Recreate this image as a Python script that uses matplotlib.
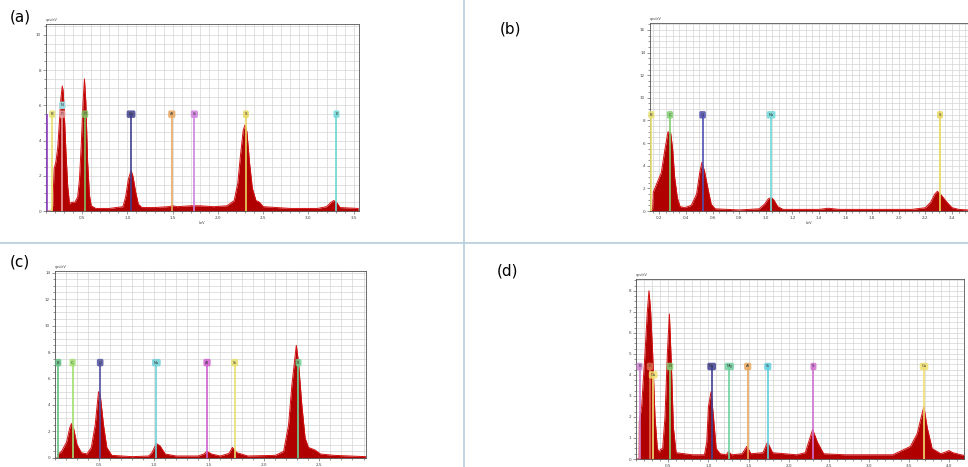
import matplotlib
matplotlib.use("Agg")
import matplotlib.pyplot as plt
from matplotlib.lines import Line2D
from matplotlib.ticker import MultipleLocator

# spectra: energy (keV) and counts (cps/eV)
a_energy = [0.10, 0.16, 0.175, 0.19, 0.21, 0.23, 0.25, 0.265, 0.28, 0.29, 0.30, 0.32, 0.34, 0.36,
            0.38, 0.42, 0.45, 0.47, 0.49, 0.51, 0.525, 0.54, 0.56, 0.58, 0.60, 0.65, 0.80, 0.95,
            0.98, 1.01, 1.04, 1.06, 1.09, 1.12, 1.16, 1.30, 1.45, 1.50, 1.55, 1.70, 1.80, 1.95,
            2.10, 2.18, 2.22, 2.25, 2.28, 2.30, 2.32, 2.35, 2.38, 2.42, 2.46, 2.50, 2.80, 3.10,
            3.20, 3.25, 3.28, 3.31, 3.35, 3.55]
a_counts = [0.0, 0.0, 0.3, 2.4, 2.8, 3.6, 5.2, 6.4, 7.1, 6.8, 5.8, 3.4, 1.4, 0.4,
            0.5, 0.5, 0.8, 1.8, 3.8, 6.2, 7.5, 6.2, 2.8, 0.9, 0.3, 0.15, 0.15, 0.25,
            0.8, 1.8, 2.3, 2.0, 1.1, 0.4, 0.2, 0.2, 0.25, 0.3, 0.25, 0.3, 0.3, 0.25,
            0.3, 0.6, 1.6, 3.2, 4.6, 4.9, 4.5, 2.7, 1.3, 0.6, 0.5, 0.25, 0.15, 0.15,
            0.25, 0.5, 0.6, 0.5, 0.2, 0.15]

b_energy = [0.13, 0.15, 0.155, 0.18, 0.215, 0.24, 0.265, 0.285, 0.30, 0.315, 0.335, 0.355, 0.39,
            0.44, 0.48, 0.505, 0.52, 0.54, 0.565, 0.59, 0.62, 0.80, 0.95, 0.99, 1.02, 1.04,
            1.06, 1.09, 1.13, 1.40, 1.47, 1.55, 1.80, 2.10, 2.20, 2.24, 2.27, 2.29, 2.32,
            2.36, 2.40, 2.45, 2.52]
b_counts = [0.0, 0.2, 1.7, 2.4, 3.4, 5.3, 7.0, 6.9, 5.5, 3.0, 1.2, 0.4, 0.3,
            0.5, 1.5, 3.5, 4.3, 3.5, 2.0, 0.6, 0.2, 0.1, 0.2, 0.6, 1.1, 1.2,
            1.0, 0.4, 0.15, 0.15, 0.25, 0.15, 0.15, 0.15, 0.3, 0.8, 1.5, 1.75, 1.4,
            0.8, 0.3, 0.15, 0.1]

c_energy = [0.10, 0.125, 0.13, 0.16, 0.205, 0.235, 0.25, 0.27, 0.30, 0.34, 0.39, 0.43, 0.465,
            0.495, 0.51, 0.54, 0.57, 0.615, 0.80, 0.95, 0.98, 1.02, 1.055, 1.10, 1.20, 1.40,
            1.45, 1.48, 1.52, 1.60, 1.68, 1.71, 1.75, 1.85, 2.10, 2.175, 2.22, 2.25, 2.27,
            2.29, 2.31, 2.34, 2.37, 2.40, 2.46, 2.51, 2.63, 2.92]
c_counts = [0.0, 0.0, 0.3, 0.5, 1.2, 2.3, 2.6, 2.2, 1.0, 0.4, 0.3, 0.8, 2.5,
            5.0, 4.8, 2.5, 0.8, 0.2, 0.1, 0.15, 0.4, 1.1, 0.9, 0.3, 0.15, 0.15,
            0.3, 0.5, 0.3, 0.15, 0.35, 0.8, 0.4, 0.15, 0.2, 0.5, 2.5, 5.5, 7.0,
            8.5, 7.2, 4.0, 1.5, 0.8, 0.6, 0.3, 0.2, 0.1]

d_energy = [0.096, 0.135, 0.1375, 0.167, 0.208, 0.2375, 0.258, 0.279, 0.304, 0.333, 0.3625,
            0.3875, 0.40, 0.429, 0.458, 0.4875, 0.5125, 0.5375, 0.5625, 0.596, 0.80, 0.95,
            0.979, 1.0, 1.033, 1.0625, 1.096, 1.146, 1.22, 1.25, 1.29, 1.42, 1.479, 1.53,
            1.68, 1.7375, 1.80, 2.10, 2.208, 2.30, 2.36, 2.4375, 2.70, 3.30, 3.52, 3.604,
            3.6875, 3.729, 3.79, 3.90, 3.97, 4.0, 4.05, 4.2]
d_counts = [0.0, 0.0, 1.8, 2.5, 5.0, 7.0, 8.0, 7.0, 5.0, 2.0, 0.5,
            0.3, 0.45, 0.5, 2.0, 5.0, 6.9, 4.5, 1.5, 0.3, 0.2, 0.2,
            0.8, 2.5, 3.2, 2.0, 0.5, 0.25, 0.2, 0.35, 0.2, 0.25, 0.6, 0.25,
            0.3, 0.8, 0.3, 0.2, 0.3, 1.4, 0.8, 0.25, 0.2, 0.2, 0.6, 1.2,
            2.5, 1.5, 0.5, 0.25, 0.35, 0.4, 0.3, 0.15]

# element marker lines
a_lines = [0.11, 0.17, 0.28, 0.53, 1.04, 1.49, 1.74, 2.31, 3.31]
a_names = ["", "B", "C", "O", "Na", "Al", "Si", "S", "K"]
a_colors = ["#9040c0", "#e8e070", "#e8a0a0", "#80c060", "#404090", "#e8a860", "#d080e0", "#e8d860", "#70d8d8"]

b_lines = [0.14, 0.28, 0.525, 1.04, 2.31]
b_names = ["B", "C", "O", "Na", "S"]
b_colors = ["#e8e070", "#80d070", "#5050b0", "#70d8d8", "#e8d860"]

c_lines = [0.13, 0.26, 0.51, 1.02, 1.48, 1.73, 2.31]
c_names = ["B", "C", "O", "Na", "Al", "Si", "S"]
c_colors = ["#60c080", "#a0e070", "#5050a0", "#70d0d8", "#d060d0", "#e8e070", "#70d090"]

d_lines = [0.14, 0.27, 0.31, 0.52, 1.04, 1.26, 1.49, 1.74, 2.31, 3.69]
d_names = ["B", "C", "Ca", "O", "Na", "Mg", "Al", "Si", "S", "Ca"]
d_colors = ["#d080d0", "#e07050", "#f0e070", "#80d070", "#404090", "#70d0a0", "#e8a860", "#60d0e0", "#d070d0", "#f0e070"]


def spectrum(ax, energy, counts, lines, names, colors, label_y, xlim, ylim, xmaj, xmin, ymaj, ymin, xlabel=True):
    ax.set_xlim(*xlim)
    ax.set_ylim(*ylim)
    ax.xaxis.set_major_locator(MultipleLocator(xmaj))
    ax.xaxis.set_minor_locator(MultipleLocator(xmin))
    ax.yaxis.set_major_locator(MultipleLocator(ymaj))
    ax.yaxis.set_minor_locator(MultipleLocator(ymin))
    ax.grid(which="both", color="#d4d4d4", lw=0.5)
    ax.set_axisbelow(True)
    ax.tick_params(which="both", labelsize=3, colors="#444444", length=1.5, width=0.4, pad=1)
    ax.tick_params(which="major", length=2.5)
    for s in ax.spines.values():
        s.set_color("#555555")
        s.set_linewidth(0.6)
    ax.fill_between(energy, counts, color="#b00000", lw=0, zorder=2)
    ax.plot(energy, counts, color="#d41010", lw=0.7, zorder=2)
    for i, (x, name, col) in enumerate(zip(lines, names, colors)):
        ly = label_y[i] if isinstance(label_y, list) else label_y
        ax.vlines(x, 0, ly, color=col, lw=1.2, zorder=3)
        if name:
            ax.text(x, ly, name, fontsize=2.8, ha="center", va="center", color="#333333", zorder=4,
                    bbox=dict(boxstyle="round,pad=0.45", fc=col, ec="none", alpha=0.85))
    ax.text(0.0, 1.01, "cps/eV", transform=ax.transAxes, fontsize=2.5, color="#444444", va="bottom")
    if xlabel:
        ax.set_xlabel("keV", fontsize=2.5, color="#444444", labelpad=0.5)


fig = plt.figure(figsize=(9.68, 4.67), dpi=100)

ax_a = fig.add_axes([0.0475, 0.548, 0.323, 0.400])
spectrum(ax_a, a_energy, a_counts, a_lines, a_names, a_colors, 5.5,
         (0.10, 3.555), (0, 10.6), 0.5, 0.1, 2, 0.5)
ax_a.text(0.28, 6.0, "N", fontsize=2.8, ha="center", va="center", color="#333333", zorder=4,
          bbox=dict(boxstyle="round,pad=0.45", fc="#a0d8e0", ec="none"))

ax_b = fig.add_axes([0.6715, 0.548, 0.3285, 0.4026])
spectrum(ax_b, b_energy, b_counts, b_lines, b_names, b_colors, 8.5,
         (0.13, 2.52), (0, 16.6), 0.2, 0.05, 2, 0.5)

ax_c = fig.add_axes([0.0568, 0.0193, 0.321, 0.400])
spectrum(ax_c, c_energy, c_counts, c_lines, c_names, c_colors, 7.2,
         (0.10, 2.92), (0, 14.1), 0.5, 0.1, 2, 0.5, xlabel=False)

ax_d = fig.add_axes([0.657, 0.0171, 0.339, 0.385])
spectrum(ax_d, d_energy, d_counts, d_lines, d_names, d_colors,
         [4.4, 4.4, 4.0, 4.4, 4.4, 4.4, 4.4, 4.4, 4.4, 4.4],
         (0.096, 4.19), (0, 8.55), 0.5, 0.1, 1, 0.25, xlabel=False)

# panel letters
fig.text(10 / 968, 1 - 17 / 467, "(a)", fontsize=11, va="center", ha="left")
fig.text(500 / 968, 1 - 29 / 467, "(b)", fontsize=11, va="center", ha="left")
fig.text(10 / 968, 1 - 262 / 467, "(c)", fontsize=11, va="center", ha="left")
fig.text(497 / 968, 1 - 271 / 467, "(d)", fontsize=11, va="center", ha="left")

# divider lines between the panels
fig.add_artist(Line2D([464 / 968, 464 / 968], [0, 1], color="#b8ccdc", lw=1.2, transform=fig.transFigure))
fig.add_artist(Line2D([0, 1], [1 - 243 / 467, 1 - 243 / 467], color="#b8ccdc", lw=1.2, transform=fig.transFigure))

fig.savefig("out.png", dpi=100)
